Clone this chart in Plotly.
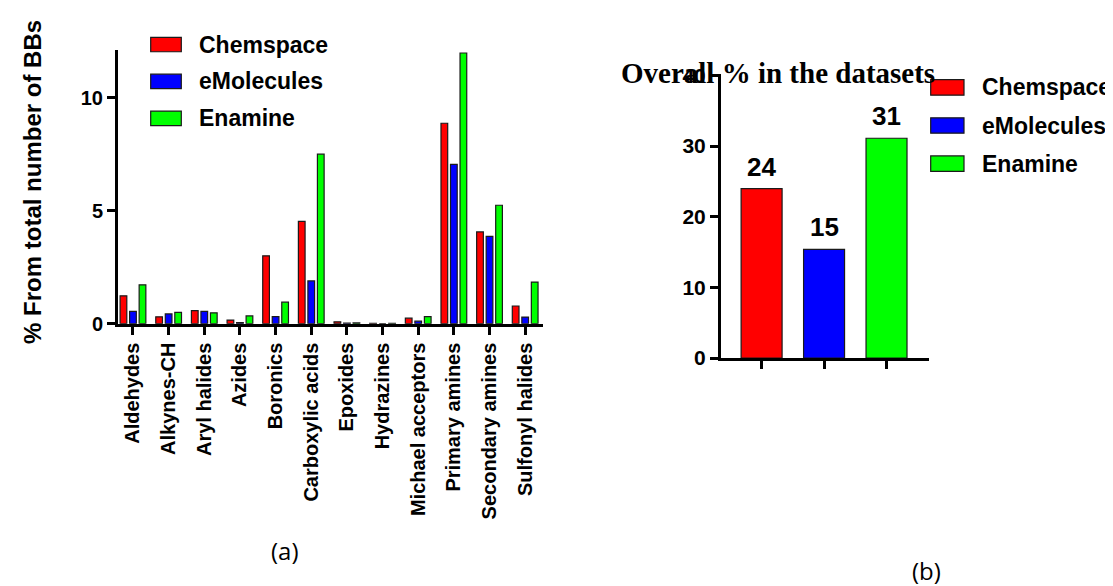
import plotly.graph_objects as go

# ---------------- data ----------------
categories = ["Aldehydes", "Alkynes-CH", "Aryl halides", "Azides", "Boronics",
              "Carboxylic acids", "Epoxides", "Hydrazines", "Michael acceptors",
              "Primary amines", "Secondary amines", "Sulfonyl halides"]
chemspace = [1.23, 0.30, 0.58, 0.16, 3.00, 4.53, 0.08, 0.01, 0.24, 8.87, 4.06, 0.78]
emolecules = [0.54, 0.43, 0.54, 0.05, 0.31, 1.89, 0.02, 0.00, 0.11, 7.05, 3.86, 0.29]
enamine = [1.72, 0.50, 0.48, 0.34, 0.95, 7.50, 0.03, 0.01, 0.31, 11.98, 5.24, 1.84]

datasets = ["Chemspace", "eMolecules", "Enamine"]
overall = [23.97, 15.37, 31.1]
overall_labels = ["24", "15", "31"]
left_ticks = [0, 5, 10]
right_ticks = [0, 10, 20, 30, 40]

colors = ["#FF0000", "#0000FF", "#00FF00"]

# ---------------- layout helpers ----------------
W, H = 1113, 586
def fx(px):
    return px / W
def fy(py):
    return 1 - py / H

SANS = "Liberation Sans, Arial, sans-serif"
SERIF = "Liberation Serif, Times New Roman, serif"

fig = go.Figure()

# panel (a): grouped bars
series = [chemspace, emolecules, enamine]
bar_w = 0.188
slot = 0.267
for i, (name, vals) in enumerate(zip(datasets, series)):
    fig.add_trace(go.Bar(
        x=categories, y=vals, name=name,
        width=bar_w, offset=-slot - bar_w / 2 + i * slot,
        marker=dict(color=colors[i], line=dict(color="#1a1a1a", width=1.2)),
        xaxis="x", yaxis="y", showlegend=False,
    ))

# panel (b): overall bars
for i, name in enumerate(datasets):
    fig.add_trace(go.Bar(
        x=[name], y=[overall[i]], name=name,
        width=0.656, offset=-0.328,
        marker=dict(color=colors[i], line=dict(color="#1a1a1a", width=1.2)),
        xaxis="x2", yaxis="y2", showlegend=False,
    ))

annotations = []
shapes = []

# value labels on panel (b)
for i, name in enumerate(datasets):
    annotations.append(dict(
        x=name, y=overall[i], xref="x2", yref="y2",
        text=overall_labels[i], showarrow=False, yshift=22, yanchor="middle",
        font=dict(family=SANS, size=26, color="black", weight="bold"),
    ))

# manual legends (wide swatches like the original)
def add_legend(x0, x1, yc0, dy, h, tx, fsize):
    for i, name in enumerate(datasets):
        yc = yc0 + i * dy
        shapes.append(dict(
            type="rect", xref="paper", yref="paper",
            x0=fx(x0), x1=fx(x1), y0=fy(yc - h / 2), y1=fy(yc + h / 2),
            fillcolor=colors[i], line=dict(color="#1a1a1a", width=1.2),
        ))
        annotations.append(dict(
            x=fx(tx), y=fy(yc), xref="paper", yref="paper",
            xanchor="left", yanchor="middle", showarrow=False, text=name,
            borderpad=0,
            font=dict(family=SANS, size=fsize, color="black", weight="bold"),
        ))

add_legend(142.7, 173.3, 27.5, 38.3, 15, 190, 23)
add_legend(922.7, 956, 72, 39.5, 16, 973, 23)

# y-axis title of panel (a)
annotations.append(dict(
    x=fx(25), y=fy(170), xref="paper", yref="paper",
    xanchor="center", yanchor="middle", showarrow=False, textangle=-90,
    text="% From total number of BBs",
    font=dict(family=SANS, size=24, color="black", weight="bold"),
))

# title of panel (b)
annotations.append(dict(
    x=fx(612), y=fy(57), xref="paper", yref="paper",
    xanchor="left", yanchor="middle", showarrow=False, borderpad=0,
    text="Overall % in the datasets",
    font=dict(family=SERIF, size=29, color="black", weight="bold"),
))

# panel letters
annotations.append(dict(
    x=fx(277), y=fy(552), xref="paper", yref="paper",
    xanchor="center", yanchor="middle", showarrow=False, text="(a)",
    font=dict(family="Open Sans, Noto Sans, sans-serif", size=24, color="black"),
))
annotations.append(dict(
    x=fx(918), y=fy(573), xref="paper", yref="paper",
    xanchor="center", yanchor="middle", showarrow=False, text="(b)",
    font=dict(family="Open Sans, Noto Sans, sans-serif", size=24, color="black"),
))

axis_common = dict(
    showgrid=False, zeroline=False, showline=True, linecolor="black",
    linewidth=3, ticks="outside", ticklen=8, tickwidth=2.5, tickcolor="black",
)

fig.update_layout(
    width=W, height=H,
    margin=dict(l=0, r=0, t=0, b=0),
    paper_bgcolor="white", plot_bgcolor="white",
    barmode="overlay",
    xaxis=dict(
        domain=[fx(110), fx(535)], anchor="y",
        type="category", categoryorder="array", categoryarray=categories,
        range=[-0.42, 11.5], tickangle=-90,
        tickfont=dict(family=SANS, size=20, color="black", weight="bold"),
        **axis_common,
    ),
    yaxis=dict(
        domain=[fy(317), fy(33)], anchor="x",
        range=[0, 12.12], tickvals=left_ticks,
        tickfont=dict(family=SANS, size=20, color="black", weight="bold"),
        **axis_common,
    ),
    xaxis2=dict(
        domain=[fx(713), fx(921)], anchor="y2",
        type="category", categoryorder="array", categoryarray=datasets,
        range=[-0.65, 2.68], showticklabels=False,
        **axis_common,
    ),
    yaxis2=dict(
        domain=[fy(352.7), fy(58)], anchor="x2",
        range=[0, 40.2], tickvals=right_ticks,
        tickfont=dict(family=SANS, size=21, color="black", weight="bold"),
        **axis_common,
    ),
    annotations=annotations,
    shapes=shapes,
)

fig.write_html("out.html")
